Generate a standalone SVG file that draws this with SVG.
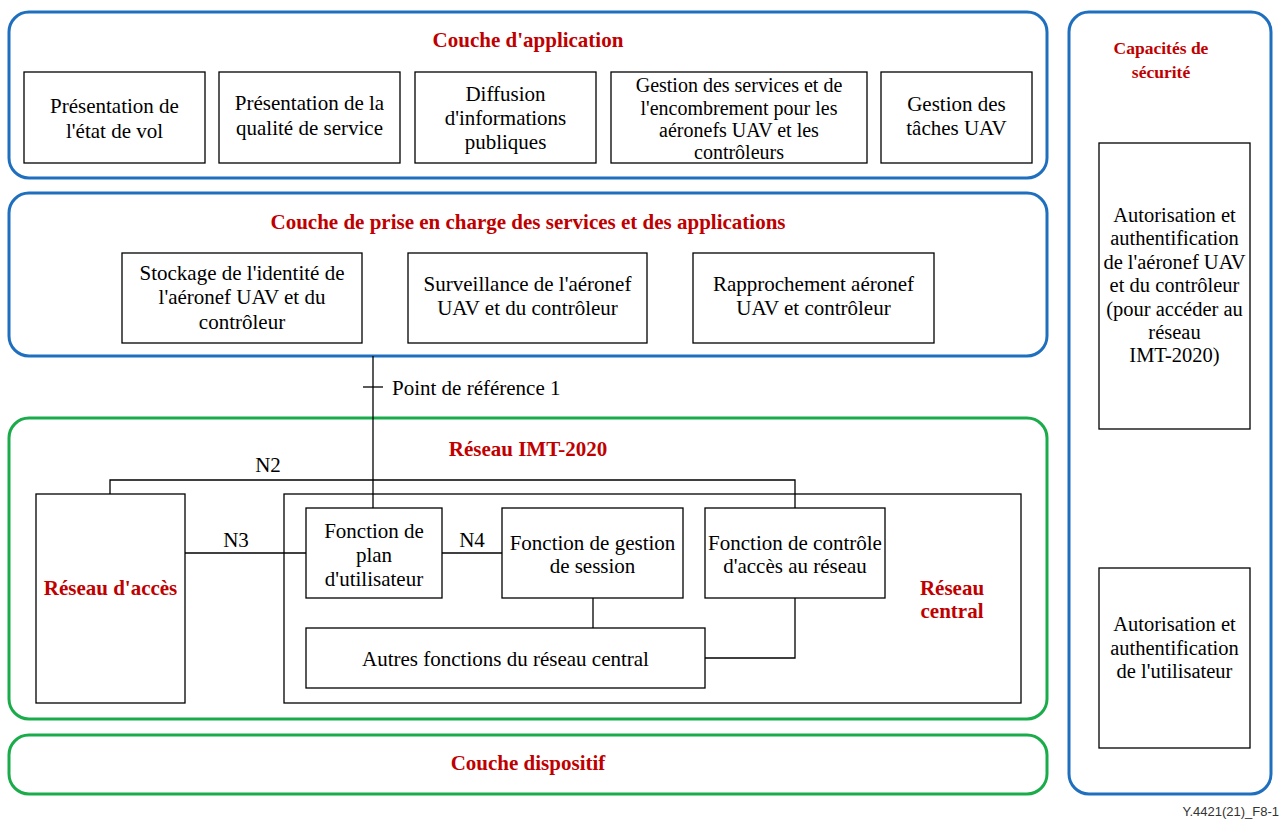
<svg xmlns="http://www.w3.org/2000/svg" width="1280" height="819" viewBox="0 0 1280 819" font-family="Liberation Serif, Times New Roman, serif">
<style>
.lb{fill:none;stroke:#1f6fbf;stroke-width:3}
.lg{fill:none;stroke:#1aab4a;stroke-width:3}
.bx{fill:#fff;stroke:#000;stroke-width:1.3}
.t{font-size:21px;fill:#000;text-anchor:middle}
.s{font-size:20.5px;fill:#000;text-anchor:middle}
.h{font-size:21px;font-weight:bold;fill:#c00000;text-anchor:middle}
.c{fill:none;stroke:#000;stroke-width:1.3}
</style>
<rect width="1280" height="819" fill="#fff"/>

<g id="app-layer">
<rect class="lb" x="9" y="12" width="1038" height="166" rx="20"/>
<text class="h" x="528" y="47">Couche d'application</text>
</g>
<g id="app1"><rect class="bx" x="24" y="72" width="181" height="91"/>
<text class="t" x="114.5" y="113">Présentation de</text><text class="t" x="114.5" y="138">l'état de vol</text></g>
<g id="app2"><rect class="bx" x="219" y="72" width="181" height="91"/>
<text class="t" x="309.5" y="110">Présentation de la</text><text class="t" x="309.5" y="135">qualité de service</text></g>
<g id="app3"><rect class="bx" x="415" y="72" width="181" height="91"/>
<text class="t" x="505.5" y="101">Diffusion</text><text class="t" x="505.5" y="125">d'informations</text><text class="t" x="505.5" y="149">publiques</text></g>
<g id="app4"><rect class="bx" x="611" y="72" width="256" height="91"/>
<text class="t" x="739" y="92" style="font-size:20px">Gestion des services et de</text><text class="t" x="739" y="115" style="font-size:20px">l'encombrement pour les</text><text class="t" x="739" y="137" style="font-size:20px">aéronefs UAV et les</text><text class="t" x="739" y="159" style="font-size:20px">contrôleurs</text></g>
<g id="app5"><rect class="bx" x="881" y="72" width="151" height="91"/>
<text class="t" x="956.5" y="111">Gestion des</text><text class="t" x="956.5" y="135">tâches UAV</text></g>

<g id="svc-layer">
<rect class="lb" x="9" y="193" width="1038" height="163" rx="20"/>
<text class="h" x="528" y="229">Couche de prise en charge des services et des applications</text>
</g>
<g id="svc1"><rect class="bx" x="122" y="253" width="240" height="90"/>
<text class="t" x="242" y="280">Stockage de l'identité de</text><text class="t" x="242" y="304">l'aéronef UAV et du</text><text class="t" x="242" y="329">contrôleur</text></g>
<g id="svc2"><rect class="bx" x="408" y="253" width="239" height="90"/>
<text class="t" x="527.5" y="291">Surveillance de l'aéronef</text><text class="t" x="527.5" y="315">UAV et du contrôleur</text></g>
<g id="svc3"><rect class="bx" x="693" y="253" width="241" height="90"/>
<text class="t" x="813.5" y="291">Rapprochement aéronef</text><text class="t" x="813.5" y="315">UAV et contrôleur</text></g>

<g id="imt">
<rect class="lg" x="9" y="418" width="1038" height="301" rx="20"/>
<text class="h" x="528" y="456">Réseau IMT-2020</text>
</g>
<g id="acces"><rect class="bx" x="36" y="494" width="149" height="209"/>
<text class="h" x="110.5" y="595">Réseau d'accès</text></g>
<g id="central"><rect class="bx" x="284" y="494" width="737" height="209"/>
<text class="h" x="952" y="595">Réseau</text><text class="h" x="952" y="618">central</text></g>
<g id="upf"><rect class="bx" x="306" y="508" width="136" height="90"/>
<text class="t" x="374" y="538">Fonction de</text><text class="t" x="374" y="562">plan</text><text class="t" x="374" y="586">d'utilisateur</text></g>
<g id="smf"><rect class="bx" x="502" y="508" width="181" height="90"/>
<text class="t" x="592.5" y="550">Fonction de gestion</text><text class="t" x="592.5" y="573">de session</text></g>
<g id="amf"><rect class="bx" x="705" y="508" width="180" height="90"/>
<text class="t" x="795" y="550">Fonction de contrôle</text><text class="t" x="795" y="573">d'accès au réseau</text></g>
<g id="autres"><rect class="bx" x="306" y="628" width="399" height="60"/>
<text class="t" x="505.5" y="666">Autres fonctions du réseau central</text></g>

<g id="dispositif">
<rect class="lg" x="9" y="735" width="1038" height="59" rx="20"/>
<text class="h" x="528" y="770">Couche dispositif</text>
</g>

<g id="securite">
<rect class="lb" x="1069" y="12" width="202" height="782" rx="20"/>
<text class="h" x="1161" y="54" style="font-size:17.5px">Capacités de</text>
<text class="h" x="1161" y="78" style="font-size:17.5px">sécurité</text>
</g>
<g id="sec1"><rect class="bx" x="1099" y="143" width="151" height="286"/>
<text class="s" x="1174.5" y="222">Autorisation et</text>
<text class="s" x="1174.5" y="245">authentification</text>
<text class="s" x="1174.5" y="269">de l'aéronef UAV</text>
<text class="s" x="1174.5" y="292">et du contrôleur</text>
<text class="s" x="1174.5" y="316">(pour accéder au</text>
<text class="s" x="1174.5" y="339">réseau</text>
<text class="s" x="1174.5" y="362">IMT-2020)</text></g>
<g id="sec2"><rect class="bx" x="1099" y="568" width="151" height="180"/>
<text class="s" x="1174.5" y="631">Autorisation et</text>
<text class="s" x="1174.5" y="655">authentification</text>
<text class="s" x="1174.5" y="678">de l'utilisateur</text></g>

<g id="connectors">
<path class="c" d="M373 356V508"/>
<path class="c" d="M363 387H383"/>
<text class="t" x="392" y="395" style="text-anchor:start">Point de référence 1</text>
<path class="c" d="M110 494V480H795V508"/>
<text class="t" x="268" y="472">N2</text>
<path class="c" d="M185 553H306"/>
<text class="t" x="236" y="547">N3</text>
<path class="c" d="M442 553H502"/>
<text class="t" x="472" y="547">N4</text>
<path class="c" d="M593 598V628"/>
<path class="c" d="M795 598V658H705"/>
</g>

<text x="1279" y="816" font-family="Liberation Sans, Arial, sans-serif" style="font-size:13px;fill:#333;text-anchor:end">Y.4421(21)_F8-1</text>
</svg>
